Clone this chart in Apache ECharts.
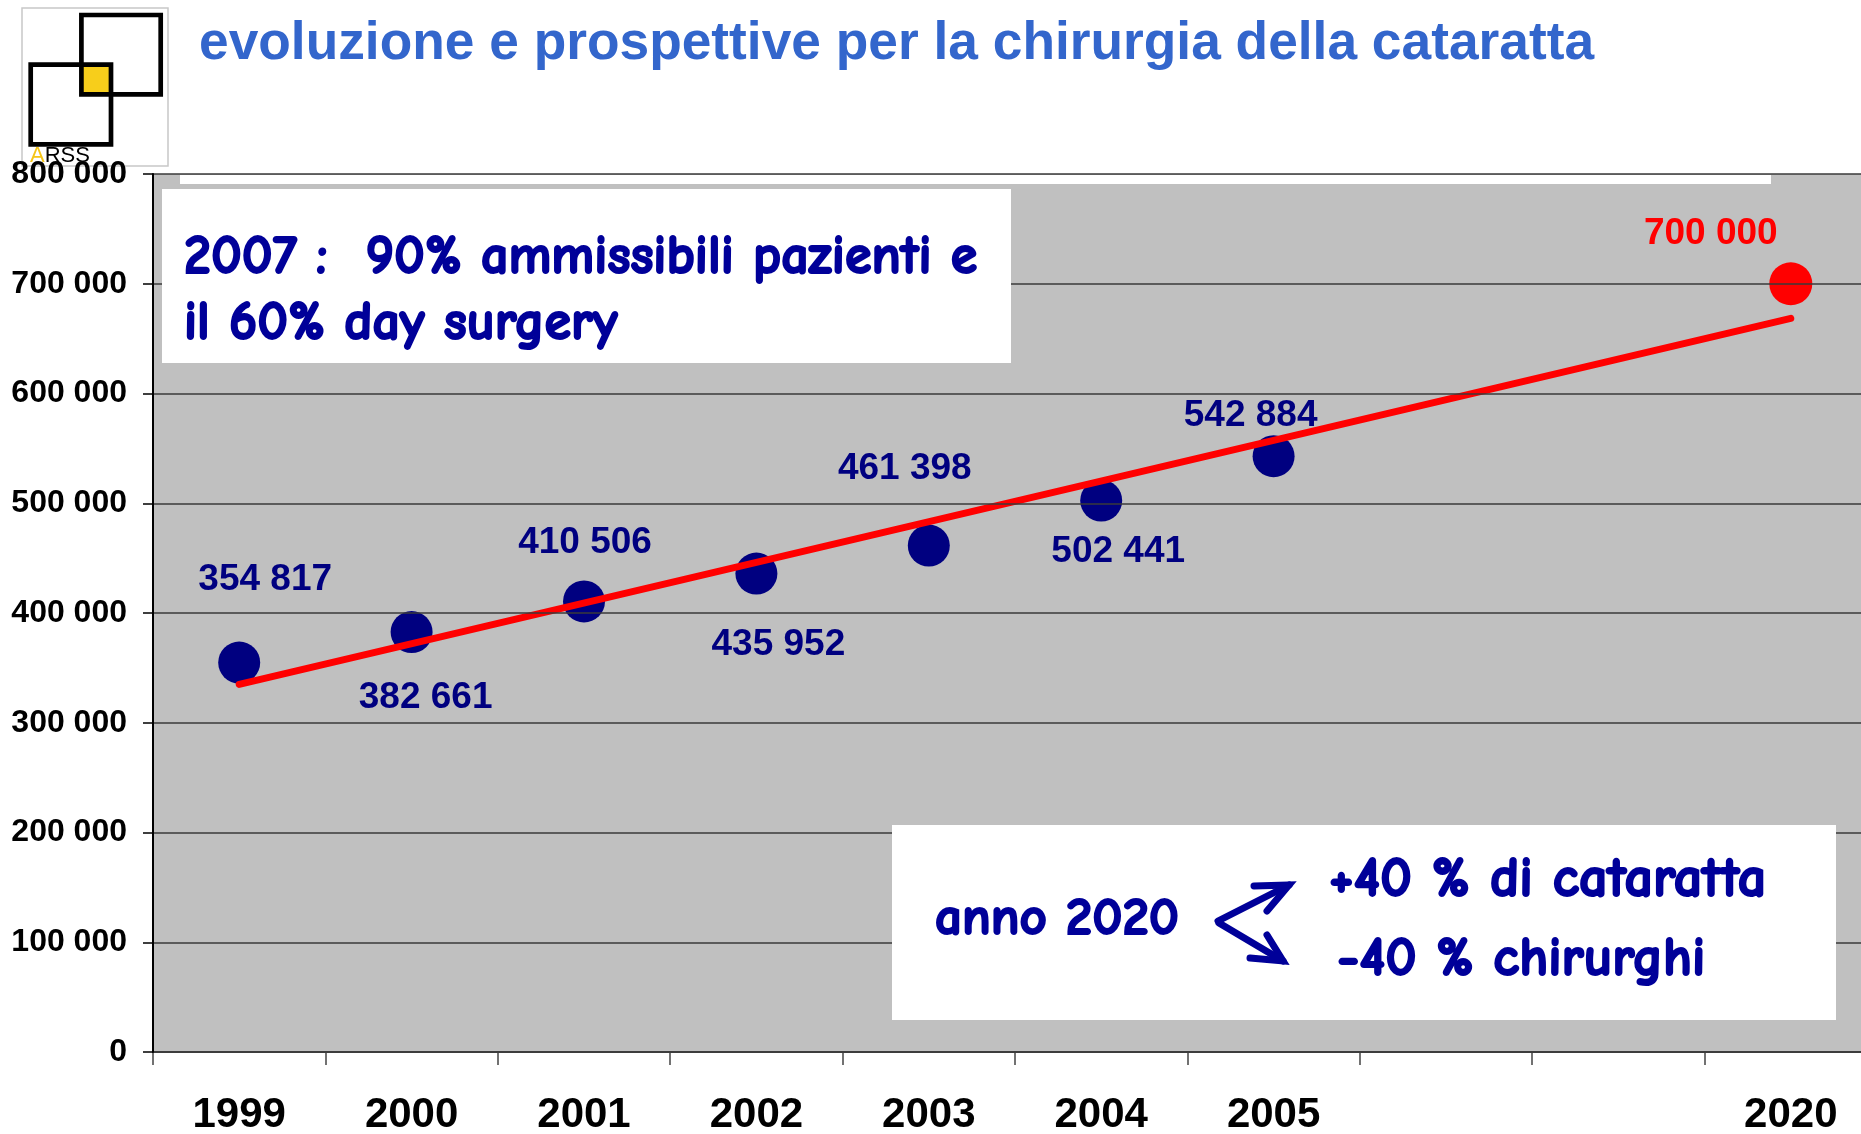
<!DOCTYPE html>
<html>
<head>
<meta charset="utf-8">
<title>evoluzione e prospettive per la chirurgia della cataratta</title>
<script src="https://cdn.jsdelivr.net/npm/echarts@6/dist/echarts.min.js"></script>
<style>
  html, body { margin: 0; padding: 0; background: #fff; }
  #chart { width: 1861px; height: 1134px; }
</style>
</head>
<body>
<div id="chart"></div>
<script>
// dati
const anni = ['1999', '2000', '2001', '2002', '2003', '2004', '2005', '', '', '2020'];
const interventi = [354817, 382661, 410506, 435952, 461398, 502441, 542884, null, null, null];
const previsione = [null, null, null, null, null, null, null, null, null, 700000];
// retta di tendenza (solo estremi)
const tendenza = [335000, null, null, null, null, null, null, null, null, 668500];
const yTicks = { min: 0, max: 800000, interval: 100000 };

// spostamento delle etichette rispetto al punto (stile)
const labelShift = [[26, -83], [14, 66], [1, -59], [22, 71], [-24, -77], [17, 51], [-23, -40], null, null, [-80, -50]];

const fmt = v => String(v).replace(/\B(?=(\d{3})+(?!\d))/g, ' ');
const NAVY = '#000080';
const HAND = '#000099';
const handFont = '"Comic Sans MS", "Comic Neue", Lato, sans-serif';

const chart = echarts.init(document.getElementById('chart'), null, { renderer: 'canvas' });

const puntiData = [];
interventi.forEach((v, i) => {
  if (v == null) return;
  puntiData.push({ value: [i, v], label: { offset: labelShift[i] } });
});
const prevData = [];
previsione.forEach((v, i) => {
  if (v == null) return;
  prevData.push({ value: [i, v], label: { offset: labelShift[i] } });
});

// testo "a mano" un po' ingrossato con il contorno
const handText = (x, y, text, size) => ({
  type: 'text', x: x, y: y, z: 7,
  style: {
    text: text, fill: HAND, stroke: HAND, lineWidth: 2,
    fontSize: size, fontWeight: 'bold', fontFamily: handFont,
    verticalAlign: 'middle'
  }
});

chart.setOption({
  animation: false,
  grid: {
    left: 153, width: 1724, top: 174, height: 878,
    outerBoundsMode: 'none',
    containLabel: false,
    show: true,
    backgroundColor: '#c0c0c0',
    borderWidth: 0
  },
  xAxis: {
    type: 'category',
    data: anni,
    boundaryGap: true,
    axisLine: { lineStyle: { color: '#444', width: 2 } },
    axisTick: { show: true, length: 13, lineStyle: { color: '#444', width: 1.5 } },
    axisLabel: {
      color: '#000', fontSize: 42, fontWeight: 'bold',
      fontFamily: '"Liberation Sans", Arial, sans-serif',
      margin: 42
    },
    splitLine: { show: false }
  },
  yAxis: {
    type: 'value',
    min: yTicks.min, max: yTicks.max, interval: yTicks.interval,
    z: 5,
    axisLine: { show: true, lineStyle: { color: '#000', width: 2 } },
    axisTick: { show: true, length: 10, lineStyle: { color: '#000', width: 1.5 } },
    axisLabel: {
      color: '#000', fontSize: 32, fontWeight: 'bold',
      fontFamily: '"Liberation Sans", Arial, sans-serif',
      margin: 26,
      formatter: v => fmt(v)
    },
    splitLine: { lineStyle: { color: '#3a3a3a', width: 1.5 } }
  },
  series: [
    {
      name: 'interventi',
      type: 'scatter',
      symbol: 'circle',
      symbolSize: 42,
      itemStyle: { color: NAVY, opacity: 1 },
      z: 2,
      label: {
        show: true, position: 'inside',
        color: NAVY, fontSize: 37, fontWeight: 'bold',
        fontFamily: '"Liberation Sans", Arial, sans-serif',
        formatter: p => fmt(p.value[1])
      },
      data: puntiData
    },
    {
      name: 'previsione 2020',
      type: 'scatter',
      symbol: 'circle',
      symbolSize: 43,
      itemStyle: { color: '#ff0000', opacity: 1 },
      z: 2,
      label: {
        show: true, position: 'inside',
        color: '#ff0000', fontSize: 37, fontWeight: 'bold',
        fontFamily: '"Liberation Sans", Arial, sans-serif',
        formatter: p => fmt(p.value[1])
      },
      data: prevData
    },
    {
      name: 'tendenza',
      type: 'line',
      data: tendenza,
      connectNulls: true,
      symbol: 'none',
      z: 4,
      lineStyle: { color: '#ff0000', width: 7, cap: 'round' },
      silent: true
    }
  ],
  graphic: [
    // striscia bianca sul bordo superiore del grafico
    { type: 'rect', z: 6, shape: { x: 180, y: 175, width: 1591, height: 9 }, style: { fill: '#fff' } },
    // logo ARSS
    {
      type: 'group', z: 1,
      children: [
        { type: 'rect', shape: { x: 22, y: 8, width: 146, height: 158 }, style: { fill: '#fff', stroke: '#c8c8c8', lineWidth: 1.5 } },
        { type: 'rect', shape: { x: 83, y: 66.7, width: 26, height: 25.5 }, style: { fill: '#f7ce1b' } },
        { type: 'rect', shape: { x: 81.4, y: 15, width: 79.3, height: 79.3 }, style: { fill: null, stroke: '#000', lineWidth: 4.7 } },
        { type: 'rect', shape: { x: 30.7, y: 64.7, width: 80.3, height: 79.7 }, style: { fill: null, stroke: '#000', lineWidth: 4.7 } },
        {
          type: 'text', x: 30, y: 156,
          style: {
            text: '{a|A}{b|RSS}', verticalAlign: 'middle',
            rich: {
              a: { fill: '#f5c518', fontSize: 22, fontFamily: '"Liberation Sans", Arial, sans-serif' },
              b: { fill: '#000', fontSize: 22, fontFamily: '"Liberation Sans", Arial, sans-serif' }
            }
          }
        }
      ]
    },
    // titolo
    {
      type: 'text', x: 199, y: 44, z: 6,
      style: {
        text: 'evoluzione e prospettive per la chirurgia della cataratta',
        fill: '#3366cc', fontSize: 53.3, fontWeight: 'bold',
        fontFamily: '"Liberation Sans", Arial, sans-serif',
        verticalAlign: 'middle'
      }
    },
    // riquadro 2007
    { type: 'rect', z: 6, shape: { x: 162, y: 189, width: 849, height: 174 }, style: { fill: '#fff' } },
    handText(184, 258, '2007 :  90% ammissibili pazienti e', 54),
    handText(184, 324, 'il 60% day surgery', 54),
    // riquadro 2020
    { type: 'rect', z: 6, shape: { x: 892, y: 825, width: 944, height: 195 }, style: { fill: '#fff' } },
    handText(935, 919, 'anno 2020', 53),
    handText(1329, 880, '+40 % di cataratta', 56),
    handText(1337, 959, '-40 % chirurghi', 55),
    // frecce
    { type: 'polyline', z: 7, shape: { points: [[1289, 885], [1218, 921]] }, style: { stroke: HAND, lineWidth: 7, lineCap: 'round', fill: null } },
    { type: 'polyline', z: 7, shape: { points: [[1254, 886], [1289, 885], [1267, 911]] }, style: { stroke: HAND, lineWidth: 7, lineCap: 'round', lineJoin: 'miter', fill: null } },
    { type: 'polyline', z: 7, shape: { points: [[1219, 923], [1283, 961]] }, style: { stroke: HAND, lineWidth: 7, lineCap: 'round', fill: null } },
    { type: 'polyline', z: 7, shape: { points: [[1250, 958], [1283, 961], [1267, 935]] }, style: { stroke: HAND, lineWidth: 7, lineCap: 'round', lineJoin: 'miter', fill: null } }
  ]
});
</script>
</body>
</html>
